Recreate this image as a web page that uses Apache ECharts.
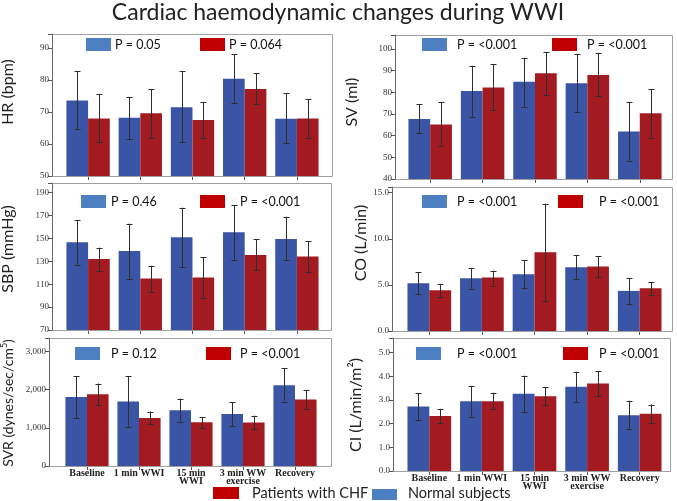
<!DOCTYPE html>
<html><head><meta charset="utf-8">
<script src="https://cdn.jsdelivr.net/npm/echarts@6/dist/echarts.min.js"></script>
<style>html,body{margin:0;padding:0;background:#fff}#c{width:677px;height:501px}</style>
</head><body><div id="c"></div>
<script>
// ---------------- DATA ----------------
const categories = ['Baseline', '1 min WWI', '15 min\nWWI', '3 min WW\nexercise', 'Recovery'];

const hrNormal = [73.6, 68.2, 71.5, 80.4, 67.9];
const hrNormalLow = [64.6, 61.7, 60.5, 72.7, 60.2];
const hrNormalHigh = [82.7, 74.6, 82.7, 88.2, 75.9];
const hrCHF = [68.0, 69.6, 67.5, 77.2, 68.0];
const hrCHFLow = [60.5, 61.9, 61.9, 72.5, 62.0];
const hrCHFHigh = [75.7, 77.2, 73.2, 82.1, 74.0];

const svNormal = [67.7, 80.6, 84.9, 84.2, 61.9];
const svNormalLow = [61.1, 68.8, 73.4, 71.1, 48.5];
const svNormalHigh = [74.6, 92.3, 96.0, 97.6, 75.4];
const svCHF = [65.2, 82.3, 88.8, 88.0, 70.4];
const svCHFLow = [55.4, 71.7, 78.9, 78.3, 59.1];
const svCHFHigh = [75.4, 93.1, 98.5, 98.3, 81.4];

const sbpNormal = [146.6, 139.0, 151.0, 155.3, 149.5];
const sbpNormalLow = [127.0, 114.9, 125.0, 131.4, 130.8];
const sbpNormalHigh = [165.8, 162.9, 176.9, 179.2, 169.0];
const sbpCHF = [132.0, 114.9, 115.8, 135.5, 134.3];
const sbpCHFLow = [121.5, 103.2, 98.3, 122.1, 120.6];
const sbpCHFHigh = [141.9, 126.2, 133.8, 149.2, 147.4];

const coNormal = [5.18, 5.72, 6.16, 6.91, 4.35];
const coNormalLow = [3.99, 4.60, 4.64, 5.65, 2.94];
const coNormalHigh = [6.41, 6.84, 7.71, 8.25, 5.72];
const coCHF = [4.42, 5.79, 8.54, 6.99, 4.64];
const coCHFLow = [3.74, 4.93, 3.30, 5.83, 3.95];
const coCHFHigh = [5.11, 6.55, 13.81, 8.10, 5.29];

const svrNormal = [1811, 1689, 1461, 1365, 2117];
const svrNormalLow = [1251, 1015, 1164, 1050, 1689];
const svrNormalHigh = [2353, 2353, 1767, 1671, 2563];
const svrCHF = [1881, 1260, 1146, 1137, 1741];
const svrCHFLow = [1601, 1102, 989, 971, 1487];
const svrCHFHigh = [2161, 1426, 1286, 1321, 1986];

const ciNormal = [2.73, 2.95, 3.26, 3.56, 2.36];
const ciNormalLow = [2.16, 2.30, 2.51, 2.92, 1.79];
const ciNormalHigh = [3.29, 3.60, 4.03, 4.19, 2.97];
const ciCHF = [2.32, 2.95, 3.16, 3.70, 2.42];
const ciCHFLow = [2.01, 2.60, 2.80, 3.18, 2.03];
const ciCHFHigh = [2.63, 3.31, 3.53, 4.22, 2.81];

const pNormal = ['P = 0.05', 'P = <0.001', 'P = 0.46', 'P = <0.001', 'P = 0.12', 'P = <0.001'];
const pCHF = ['P = 0.064', 'P = <0.001', 'P = <0.001', 'P = <0.001', 'P = <0.001', 'P = <0.001'];

const yNames = ['HR (bpm)', 'SV (ml)', 'SBP (mmHg)', 'CO (L/min)', 'SVR (dynes/sec/cm{sup|5})', 'CI (L/min/m²)'];
const titleText = 'Cardiac haemodynamic changes during WWI';
const legendCHF = 'Patients with CHF';
const legendNormal = 'Normal subjects';

// ---------------- LAYOUT / STYLE ----------------
const BLUE = '#3a54a6', RED = '#a31a20';
const BLUE_KEY = '#4d80c2', RED_KEY = '#c00000';
const FONT = 'Lato';

const panels = [
  { normal: hrNormal, nLow: hrNormalLow, nHigh: hrNormalHigh, chf: hrCHF, cLow: hrCHFLow, cHigh: hrCHFHigh,
    grid: [62, 34, 261, 142], frame: [52, 34, 280, 142], min: 50, max: 94.4, interval: 10, fmt: 'int',
    name: [8, 92], nameSize: 16, keyB: [86, 38, 115], keyR: [200, 38, 229], labels: false },
  { normal: svNormal, nLow: svNormalLow, nHigh: svNormalHigh, chf: svCHF, cLow: svCHFLow, cHigh: svCHFHigh,
    grid: [404, 35, 262, 144], frame: [395, 35, 277, 144], min: 40, max: 106.5, interval: 10, fmt: 'int',
    name: [352, 102], nameSize: 16, keyB: [422, 38, 457], keyR: [552, 38, 587], labels: false },
  { normal: sbpNormal, nLow: sbpNormalLow, nHigh: sbpNormalHigh, chf: sbpCHF, cLow: sbpCHFLow, cHigh: sbpCHFHigh,
    grid: [62, 183, 261, 147], frame: [52, 183, 279, 147], min: 70, max: 198.4, interval: 20, fmt: 'int',
    name: [8, 249], nameSize: 16, keyB: [81, 195, 111], keyR: [200, 195, 240], labels: false },
  { normal: coNormal, nLow: coNormalLow, nHigh: coNormalHigh, chf: coCHF, cLow: coCHFLow, cHigh: coCHFHigh,
    grid: [403, 187, 263, 144], frame: [392, 187, 280, 144], min: 0, max: 15.62, interval: 5, fmt: 'dec',
    name: [361, 243], nameSize: 16, keyB: [422, 195, 457], keyR: [558, 195, 599], labels: false },
  { normal: svrNormal, nLow: svrNormalLow, nHigh: svrNormalHigh, chf: svrCHF, cLow: svrCHFLow, cHigh: svrCHFHigh,
    grid: [61, 338, 260, 128], frame: [49, 338, 282, 128], min: 0, max: 3355, interval: 1000, fmt: 'comma',
    name: [8, 403], nameSize: 14, keyB: [75, 347, 111], keyR: [206, 347, 240], labels: true },
  { normal: ciNormal, nLow: ciNormalLow, nHigh: ciNormalHigh, chf: ciCHF, cLow: ciCHFLow, cHigh: ciCHFHigh,
    grid: [403, 338, 263, 133], frame: [393, 338, 277, 133], min: 0, max: 5.62, interval: 1, fmt: 'dec',
    name: [356, 405], nameSize: 16, keyB: [416, 347, 457], keyR: [563, 347, 599], labels: true }
];

const CAT_GAP = 0.17;

function makeFormatter(p) {
  return function (v) {
    const k = (v - p.min) / p.interval;
    if (Math.abs(k - Math.round(k)) > 1e-6) return '';
    if (p.fmt === 'dec') return v.toFixed(1);
    if (p.fmt === 'comma') return String(Math.round(v)).replace(/\B(?=(\d{3})+(?!\d))/g, ',');
    return String(Math.round(v));
  };
}

function errRender(sign) {
  return function (params, api) {
    const idx = api.value(0);
    const pLo = api.coord([idx, api.value(1)]);
    const pHi = api.coord([idx, api.value(2)]);
    const band = api.size([1, 0])[0];
    const bw = band * (1 - CAT_GAP) / 2;
    const cx = Math.round(pLo[0] + sign * bw / 2) + 0.5;
    const cap = 3;
    const st = { stroke: '#2e2e2e', lineWidth: 1 };
    return {
      type: 'group', children: [
        { type: 'line', shape: { x1: cx, y1: pHi[1], x2: cx, y2: pLo[1] }, style: st },
        { type: 'line', shape: { x1: cx - cap, y1: Math.round(pHi[1]) + 0.5, x2: cx + cap, y2: Math.round(pHi[1]) + 0.5 }, style: st },
        { type: 'line', shape: { x1: cx - cap, y1: Math.round(pLo[1]) + 0.5, x2: cx + cap, y2: Math.round(pLo[1]) + 0.5 }, style: st }
      ]
    };
  };
}

const grid = [], xAxis = [], yAxis = [], series = [], graphic = [];

panels.forEach((p, i) => {
  grid.push({ left: p.grid[0], top: p.grid[1], width: p.grid[2], height: p.grid[3], containLabel: false });
  xAxis.push({
    gridIndex: i, type: 'category', data: categories,
    axisLine: { show: false },
    axisTick: { show: true, alignWithLabel: true, length: 4, lineStyle: { color: '#555' } },
    axisLabel: {
      show: p.labels, interval: 0, margin: 3, fontFamily: 'Liberation Serif', fontSize: 10, fontWeight: 'bold',
      color: '#222', lineHeight: 8
    },
    splitLine: { show: false }
  });
  yAxis.push({
    gridIndex: i, type: 'value', min: p.min, max: p.max, interval: p.interval,
    offset: p.grid[0] - p.frame[0],
    axisLine: { show: true, lineStyle: { color: '#555' } },
    axisTick: { show: true, length: 4, lineStyle: { color: '#555' } },
    axisLabel: { fontFamily: 'Liberation Serif', fontSize: 9, color: '#333', margin: 3, formatter: makeFormatter(p) },
    splitLine: { show: false }
  });
  series.push({
    type: 'bar', name: legendNormal, xAxisIndex: i, yAxisIndex: i, data: p.normal,
    barGap: '0%', barCategoryGap: (CAT_GAP * 100) + '%', itemStyle: { color: BLUE }, z: 2
  });
  series.push({
    type: 'bar', name: legendCHF, xAxisIndex: i, yAxisIndex: i, data: p.chf,
    barGap: '0%', barCategoryGap: (CAT_GAP * 100) + '%', itemStyle: { color: RED }, z: 2
  });
  series.push({
    type: 'custom', xAxisIndex: i, yAxisIndex: i, renderItem: errRender(-1), z: 5, silent: true,
    data: categories.map((c, k) => [k, p.nLow[k], p.nHigh[k]])
  });
  series.push({
    type: 'custom', xAxisIndex: i, yAxisIndex: i, renderItem: errRender(1), z: 5, silent: true,
    data: categories.map((c, k) => [k, p.cLow[k], p.cHigh[k]])
  });

  // frame
  graphic.push({
    type: 'rect', z: 10, silent: true,
    shape: { x: p.frame[0] + 0.5, y: p.frame[1] + 0.5, width: p.frame[2], height: p.frame[3] },
    style: { fill: 'none', stroke: '#a0a0a0', lineWidth: 1 }
  });
  graphic.push({
    type: 'line', z: 11, silent: true,
    shape: { x1: p.frame[0] + 0.5, y1: p.frame[1] + 0.5, x2: p.frame[0] + 0.5, y2: p.frame[1] + p.frame[3] + 0.5 },
    style: { stroke: '#666', lineWidth: 1 }
  });
  // in-panel keys
  graphic.push({ type: 'rect', z: 12, shape: { x: p.keyB[0], y: p.keyB[1], width: 25, height: 13 }, style: { fill: BLUE_KEY } });
  graphic.push({ type: 'text', z: 12, x: p.keyB[2], y: p.keyB[1] + 6.5,
    style: { text: pNormal[i], fontFamily: FONT, fontSize: 12.5, fill: '#111', verticalAlign: 'middle', align: 'left' } });
  graphic.push({ type: 'rect', z: 12, shape: { x: p.keyR[0], y: p.keyR[1], width: 25, height: 13 }, style: { fill: RED_KEY } });
  graphic.push({ type: 'text', z: 12, x: p.keyR[2], y: p.keyR[1] + 6.5,
    style: { text: pCHF[i], fontFamily: FONT, fontSize: 12.5, fill: '#111', verticalAlign: 'middle', align: 'left' } });
  // y axis name
  graphic.push({ type: 'text', z: 12, x: p.name[0], y: p.name[1], rotation: Math.PI / 2,
    style: { text: yNames[i], fontFamily: FONT, fontSize: p.nameSize, fill: '#222', align: 'center', verticalAlign: 'middle',
      rich: { sup: { fontFamily: FONT, fontSize: 9, fill: '#222', verticalAlign: 'top', padding: [0, 0, 7, 0] } } } });
});

// title
graphic.push({ type: 'text', z: 12, x: 338, y: 13,
  style: { text: titleText, fontFamily: FONT, fontSize: 23, fill: '#222', align: 'center', verticalAlign: 'middle' } });
// bottom legend
graphic.push({ type: 'rect', z: 12, shape: { x: 213, y: 487, width: 26, height: 12 }, style: { fill: RED_KEY } });
graphic.push({ type: 'text', z: 12, x: 252, y: 493,
  style: { text: legendCHF, fontFamily: FONT, fontSize: 14.5, fill: '#222', align: 'left', verticalAlign: 'middle' } });
graphic.push({ type: 'rect', z: 12, shape: { x: 372, y: 489, width: 25, height: 11 }, style: { fill: BLUE_KEY } });
graphic.push({ type: 'text', z: 12, x: 408, y: 493,
  style: { text: legendNormal, fontFamily: FONT, fontSize: 14.5, fill: '#222', align: 'left', verticalAlign: 'middle' } });

const chart = echarts.init(document.getElementById('c'), null, { renderer: 'canvas' });
chart.setOption({ animation: false, backgroundColor: '#fff', grid, xAxis, yAxis, series, graphic });
</script></body></html>
